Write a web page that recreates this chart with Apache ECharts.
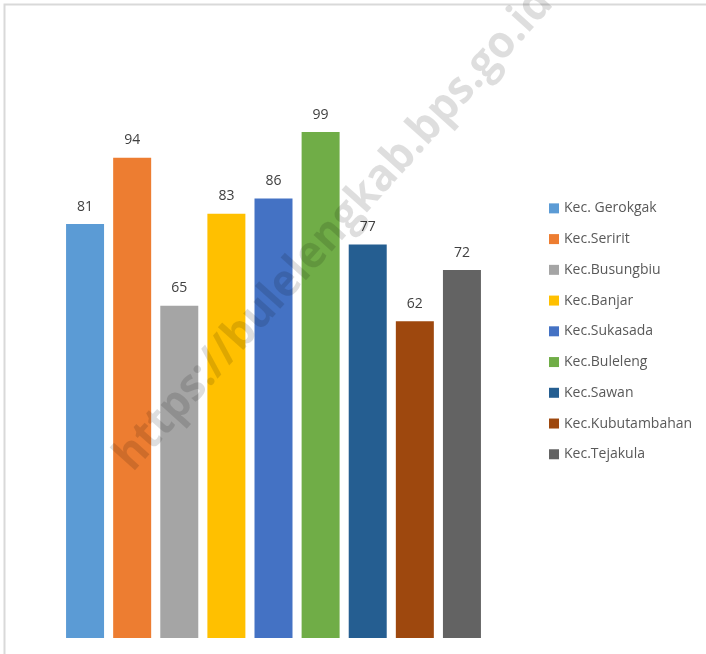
<!DOCTYPE html>
<html>

<head>
  <title>chart</title>
  <script src="https://cdn.jsdelivr.net/npm/echarts@6/dist/echarts.min.js"></script>
  <style>
    html, body { margin: 0; padding: 0; background: #fff; }
  </style>
</head>

<body>
  <div id="main" style="width: 706px;height:654px;"></div>
  <script>
    // nama kecamatan dan nilainya
    var names = ['Kec. Gerokgak', 'Kec.Seririt', 'Kec.Busungbiu', 'Kec.Banjar', 'Kec.Sukasada',
      'Kec.Buleleng', 'Kec.Sawan', 'Kec.Kubutambahan', 'Kec.Tejakula'];
    var values = [81, 94, 65, 83, 86, 99, 77, 62, 72];
    var colors = ['#5B9BD5', '#ED7D31', '#A5A5A5', '#FFC000', '#4472C4', '#70AD47', '#255E91', '#9E480E', '#636363'];

    var myChart = echarts.init(document.getElementById('main'));

    var series = names.map(function (name, i) {
      return {
        name: name,
        type: 'bar',
        stack: 'all',
        barWidth: 38,
        itemStyle: { color: colors[i] },
        label: {
          show: true,
          position: 'top',
          distance: 6,
          color: '#404040',
          fontSize: 14,
          fontFamily: 'Open Sans'
        },
        data: values.map(function (v, j) { return j === i ? v : '-'; })
      };
    });

    var option = {
      animation: false,
      backgroundColor: '#fff',
      grid: { left: 61.5, right: 220.5, top: 127, bottom: 16 },
      legend: {
        orient: 'vertical',
        left: 549,
        top: 197,
        padding: 0,
        itemWidth: 10,
        itemHeight: 10,
        itemGap: 8,
        icon: 'rect',
        textStyle: { color: '#595959', fontSize: 14, fontFamily: 'Open Sans' },
        data: names
      },
      xAxis: {
        type: 'category',
        data: names,
        show: false
      },
      yAxis: {
        type: 'value',
        min: 0,
        max: 100,
        show: false
      },
      graphic: [
        {
          type: 'polyline',
          shape: { points: [[4.5, 654], [4.5, 4.5], [706, 4.5]] },
          style: { stroke: '#d9d9d9', lineWidth: 2, fill: null },
          silent: true
        },
        {
          // watermark
          type: 'text',
          x: 334,
          y: 230,
          scaleX: 0.955,
          rotation: 48 * Math.PI / 180,
          z: 100,
          silent: true,
          style: {
            text: 'https://bulelengkab.bps.go.id',
            font: 'bold 45px "Open Sans"',
            fill: 'rgba(0,0,0,0.13)',
            align: 'center',
            verticalAlign: 'middle'
          }
        }
      ],
      series: series
    };
    myChart.setOption(option);
  </script>
</body>

</html>
